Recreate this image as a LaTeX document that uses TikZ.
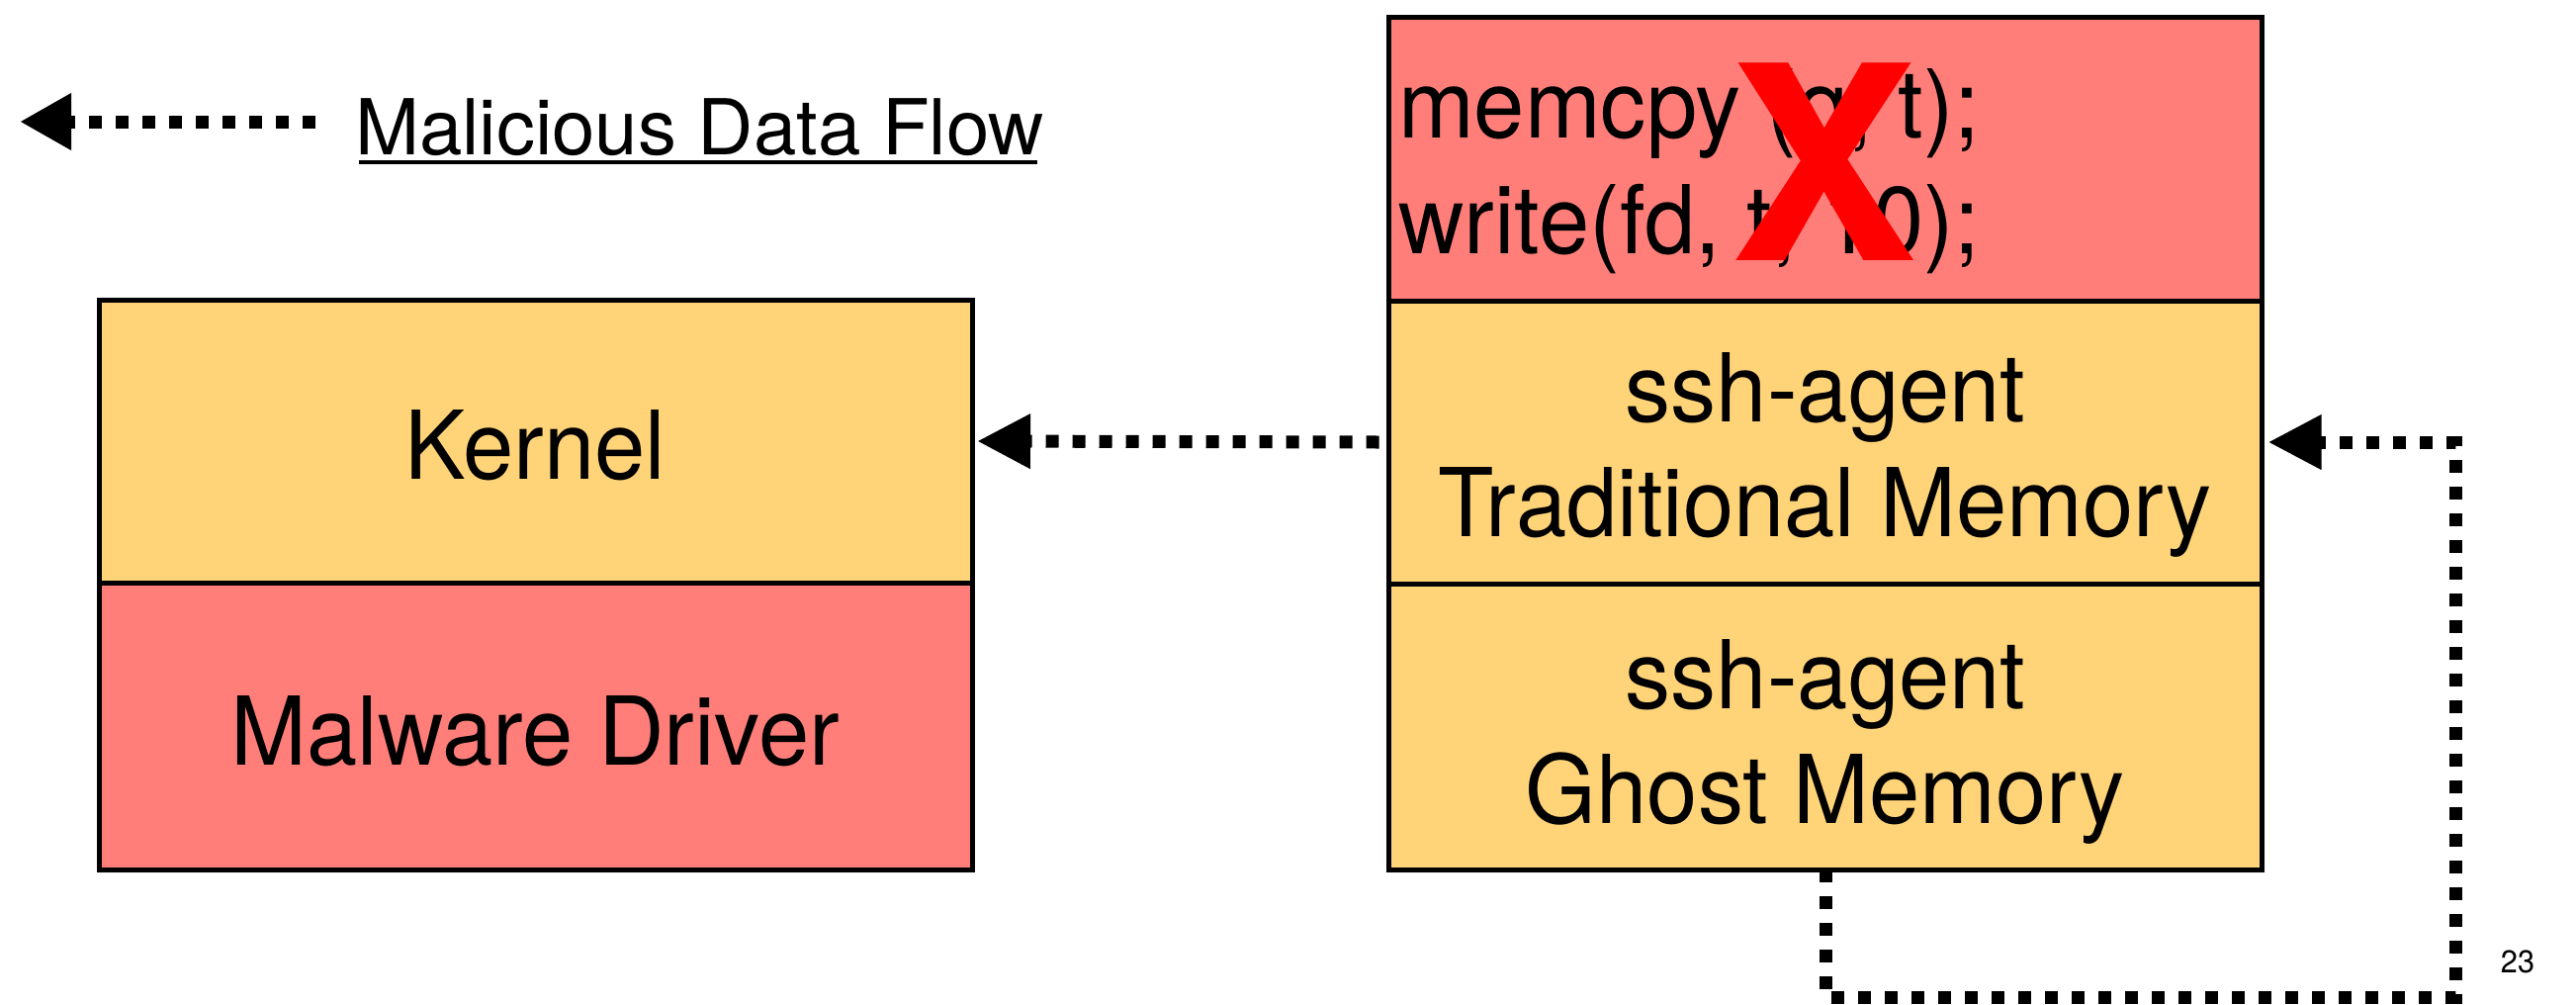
\documentclass[tikz,border=0pt]{standalone}
\usepackage{fontspec}
\setmainfont[FakeStretch=0.96]{TeX Gyre Heros}
\newfontfamily\xfont[FakeStretch=1.04]{TeX Gyre Heros}
\newfontfamily\legfont{TeX Gyre Heros}
\usetikzlibrary{arrows.meta}
\definecolor{cantaloupe}{HTML}{FFD479}
\definecolor{salmon}{HTML}{FF7E79}
\begin{document}
\begin{tikzpicture}[x=1pt,y=-1pt,
  cell/.style={draw=black, line width=5pt, rectangle, inner sep=0pt, outer sep=0pt, minimum width=883pt},
  lbl/.style={anchor=base, inner sep=0pt, font=\fontsize{96}{116}\selectfont},
  flow/.style={line width=13pt, dash pattern=on 13pt off 14pt, -{Triangle[length=54pt,width=52pt]}},
]
\fill[white] (0,0) rectangle (2605,1015);
\useasboundingbox (0,0) rectangle (2605,1015);

% cells
\node[cell, fill=cantaloupe, minimum height=286pt] (kernel) at (541.5,446) {};
\node[cell, fill=salmon, minimum height=290pt] (malware) at (541.5,734) {};
\node[cell, fill=salmon, minimum height=287pt] (code) at (1846,160.5) {};
\node[cell, fill=cantaloupe, minimum height=286pt] (trad) at (1846,447) {};
\node[cell, fill=cantaloupe, minimum height=289pt] (ghost) at (1846,734.5) {};

% labels
\node[lbl] (kernelt) at (541.5,484) {Kernel};
\node[lbl] (malwaret) at (541.5,773) {Malware Driver};
\node[lbl] (trad1) at (1846,426) {ssh-agent};
\node[lbl] (trad2) at (1846,542) {Traditional Memory};
\node[lbl] (ghost1) at (1846,716) {ssh-agent};
\node[lbl] (ghost2) at (1846,832) {Ghost Memory};
\node[lbl, anchor=base west] (code1) at (1414,139) {memcpy (q, t);};
\node[lbl, anchor=base west] (code2) at (1414,256) {write(fd, t, 10);};
\node[anchor=base, inner sep=0pt, text=red, font=\fontsize{274}{274}\selectfont\xfont\bfseries] (cross) at (1845,263) {X};

% legend
\coordinate (legA) at (319,123);
\coordinate (legB) at (20,123);
\draw[flow, -{Triangle[length=52pt,width=54pt]}] (legA) -- (legB);
\node[anchor=base west, inner sep=0pt, font=\fontsize{78}{94}\selectfont\legfont] (legt) at (359,156) {Malicious Data Flow};
\draw[line width=4pt] ([xshift=4pt,yshift=-8pt]legt.base west) -- ([xshift=-7pt,yshift=-8pt]legt.base east);

% flows
\draw[flow] ([xshift=-10pt]trad.west) -- ([xshift=5pt]kernel.east);
\coordinate (lpA) at (1846,1008);
\coordinate (lpB) at (2483,1008);
\coordinate (lpC) at (2483,447);
\draw[flow] (ghost.south) -- (lpA) -- (lpB) -- (lpC) -- ([xshift=6pt]trad.east);

% page number
\node[anchor=base, inner sep=0pt, font=\fontsize{32}{38}\selectfont] (pnum) at (2546,983) {23};
\end{tikzpicture}
\end{document}
